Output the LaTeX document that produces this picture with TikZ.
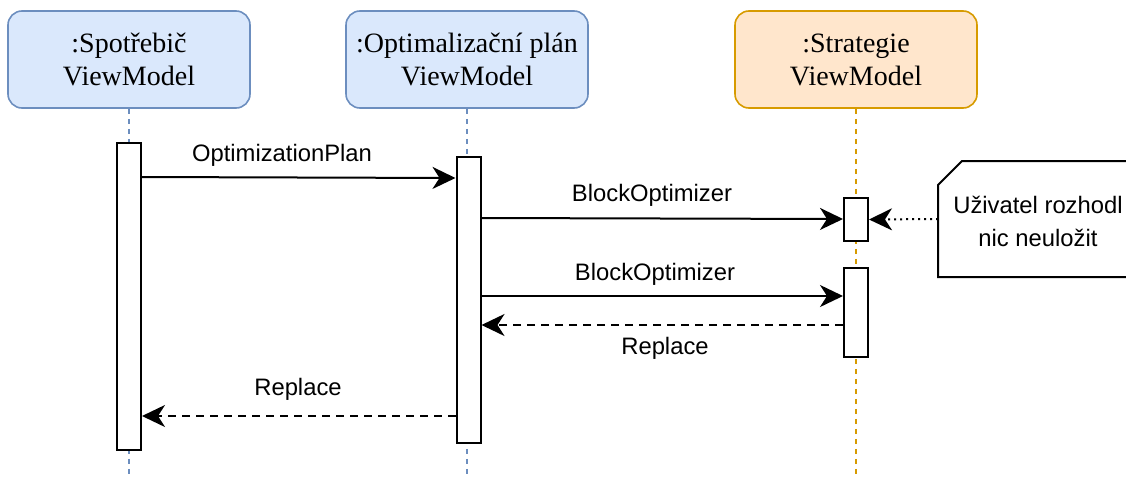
\documentclass[tikz,border=0pt]{standalone}
\usepackage{fontspec}
\setmainfont{Liberation Serif}
\setsansfont{Liberation Sans}
\usetikzlibrary{arrows.meta}
\definecolor{bluefill}{HTML}{DAE8FC}
\definecolor{bluedraw}{HTML}{6C8EBF}
\definecolor{orfill}{HTML}{FFE6CC}
\definecolor{ordraw}{HTML}{D79B00}
\begin{document}
\begin{tikzpicture}[x=1pt,y=-1pt,
  header/.style={rounded corners=14pt, line width=1.6pt, minimum width=242pt, minimum height=97pt, align=center, inner sep=0pt, font=\fontsize{28}{33}\selectfont},
  bluehead/.style={header, draw=bluedraw, fill=bluefill},
  orhead/.style={header, draw=ordraw, fill=orfill},
  lifeline/.style={line width=1.2pt, dash pattern=on 5pt off 5pt},
  act/.style={draw, fill=white, line width=2pt, minimum width=24pt, inner sep=0pt},
  tip/.style={-{Stealth[length=23pt, width=22pt, inset=7pt]}},
  msg/.style={line width=2pt, tip},
  ret/.style={msg, dash pattern=on 8pt off 6pt},
  lbl/.style={font=\sffamily\fontsize{23.8}{28}\selectfont, inner sep=0pt},
  notetext/.style={font=\sffamily\fontsize{23.8}{33}\selectfont, align=center, inner sep=0pt}
]
\useasboundingbox (0,0) rectangle (1126,477);
% headers
\node[bluehead] (h1) at (129,59.5) {:Spotřebič\\ViewModel};
\node[bluehead] (h2) at (467,59.5) {:Optimalizační plán\\ViewModel};
\node[orhead] (h3) at (856,59.5) {:Strategie\\ViewModel};
% lifelines
\coordinate (e1) at (129,477);
\coordinate (e2) at (467,477);
\coordinate (e3) at (856,477);
\draw[lifeline, bluedraw] (h1.south) -- (e1);
\draw[lifeline, bluedraw] (h2.south) -- (e2);
\draw[lifeline, ordraw] (h3.south) -- (e3);
% activations
\node[act, minimum height=307pt] (a1) at (129,296.5) {};
\node[act, minimum height=286pt] (a2) at (468.5,300) {};
\node[act, minimum height=43pt] (a3) at (856,219.5) {};
\node[act, minimum height=89pt] (a4) at (856,312.5) {};
% messages
\draw[msg] (a1.east |- 0,177) -- (a2.west |- 0,178);
\node[lbl] (l1) at (282,155) {OptimizationPlan};
\draw[msg] (a2.east |- 0,218) -- (a3.west |- 0,219);
\node[lbl] (l2) at (652,195) {BlockOptimizer};
\draw[msg] (a2.east |- 0,296) -- (a4.west |- 0,296);
\node[lbl] (l3) at (655,274) {BlockOptimizer};
\draw[ret] (a4.west |- 0,325) -- (a2.east |- 0,325);
\node[lbl] (l4) at (665,348) {Replace};
\draw[ret] (a2.west |- 0,416) -- (a1.east |- 0,416);
\node[lbl] (l5) at (298,389) {Replace};
% note
\draw[line width=2pt, fill=white] (1140,161) -- (962,161) -- (938,185) -- (938,277) -- (1140,277);
\node[notetext] (note) at (1038,221) {Uživatel rozhodl\\nic neuložit};
\coordinate (nw) at (938,219);
\draw[line width=2pt, dash pattern=on 2pt off 4pt, tip] (nw) -- (a3.east);
\end{tikzpicture}
\end{document}
